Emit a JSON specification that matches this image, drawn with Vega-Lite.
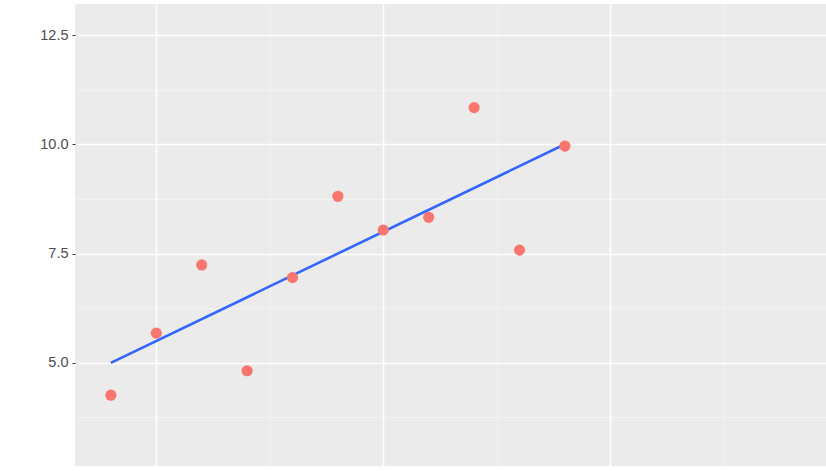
{
  "$schema": "https://vega.github.io/schema/vega-lite/v6.json",
  "autosize": {"type": "none"},
  "padding": {"left": 75, "top": 4, "right": 0, "bottom": 5},
  "width": 751,
  "height": 462,
  "background": "white",
  "config": {
    "view": {"fill": "#EBEBEB", "stroke": null},
    "axis": {
      "domain": false,
      "gridColor": "white",
      "labelFont": "Liberation Sans",
      "labelColor": "#4D4D4D",
      "labelFontSize": 14.5,
      "tickColor": "#333333"
    }
  },
  "datasets": {
    "points": [
      {"x": 10, "y": 8.04},
      {"x": 8, "y": 6.95},
      {"x": 13, "y": 7.58},
      {"x": 9, "y": 8.81},
      {"x": 11, "y": 8.33},
      {"x": 14, "y": 9.96},
      {"x": 6, "y": 7.24},
      {"x": 4, "y": 4.26},
      {"x": 12, "y": 10.84},
      {"x": 7, "y": 4.82},
      {"x": 5, "y": 5.68}
    ],
    "fit": [
      {"x": 4, "y": 5.0009},
      {"x": 14, "y": 10.0009}
    ]
  },
  "layer": [
    {
      "data": {"name": "fit"},
      "mark": {"type": "line", "color": "#3366FF", "strokeWidth": 2.6, "clip": true},
      "encoding": {
        "x": {
          "field": "x",
          "type": "quantitative",
          "scale": {"domain": [3.21, 19.75], "nice": false, "zero": false},
          "axis": {
            "title": null,
            "labels": false,
            "ticks": false,
            "values": [5, 7.5, 10, 12.5, 15, 17.5],
            "gridWidth": {"condition": {"test": "datum.value % 5 === 0", "value": 1.6}, "value": 0.6},
            "gridOpacity": {"condition": {"test": "datum.value % 5 === 0", "value": 1}, "value": 0.7}
          }
        },
        "y": {
          "field": "y",
          "type": "quantitative",
          "scale": {"domain": [2.64, 13.21], "nice": false, "zero": false},
          "axis": {
            "title": null,
            "values": [3.75, 5, 6.25, 7.5, 8.75, 10, 11.25, 12.5],
            "labelExpr": "datum.value % 2.5 === 0 ? format(datum.value, '.1f') : ''",
            "tickSize": 3,
            "labelPadding": 4,
            "tickOpacity": {"condition": {"test": "datum.value % 2.5 === 0", "value": 1}, "value": 0},
            "gridWidth": {"condition": {"test": "datum.value % 2.5 === 0", "value": 1.6}, "value": 0.6},
            "gridOpacity": {"condition": {"test": "datum.value % 2.5 === 0", "value": 1}, "value": 0.7}
          }
        }
      }
    },
    {
      "data": {"name": "points"},
      "mark": {"type": "circle", "color": "#F8766D", "opacity": 1, "size": 125},
      "encoding": {
        "x": {"field": "x", "type": "quantitative"},
        "y": {"field": "y", "type": "quantitative"}
      }
    }
  ]
}
